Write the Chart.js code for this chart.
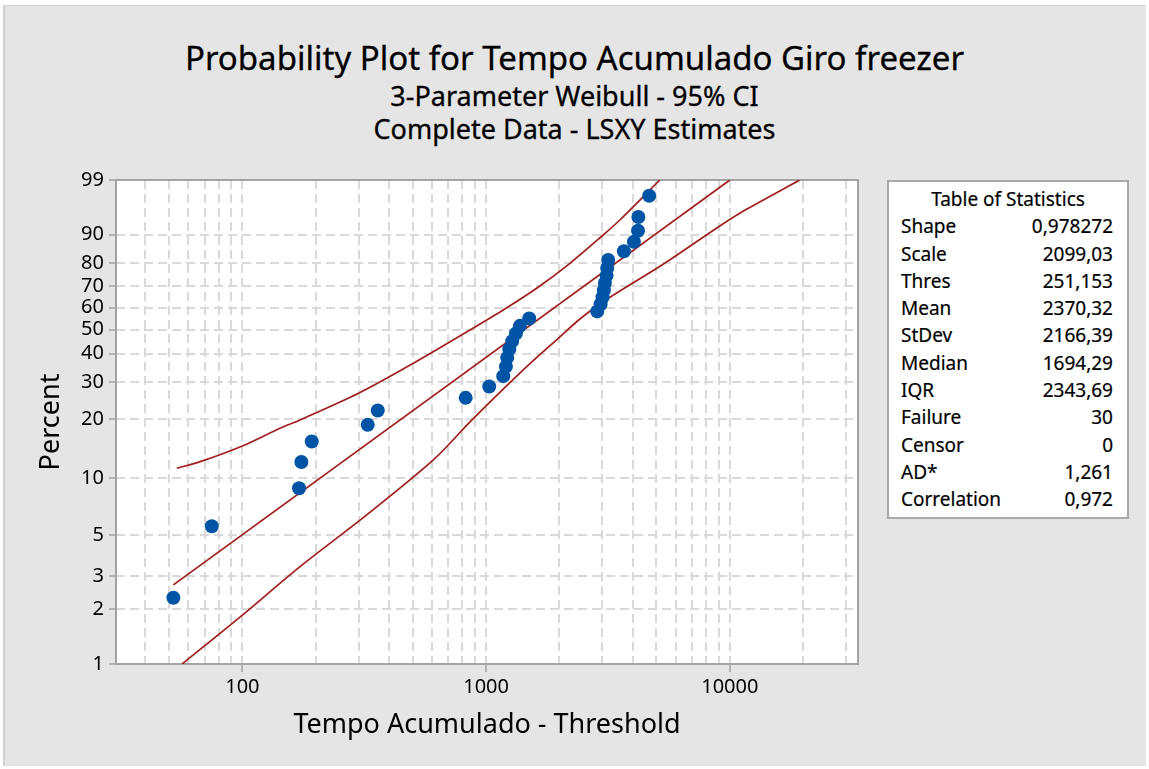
<!DOCTYPE html>
<html>
<head>
<meta charset="utf-8">
<script src="https://cdn.jsdelivr.net/npm/chart.js@4.4.0/dist/chart.umd.min.js"></script>
<style>
  html, body { margin:0; padding:0; background:#ffffff; width:1149px; height:769px; overflow:hidden; }
  #frame { position:absolute; left:3px; top:5px; width:1143px; height:761px; background:#e5e5e5;
           border-left:2px solid #d0d0d0; border-top:1px solid #d6d6d6; box-sizing:border-box; }
  .ttl { position:absolute; left:0; width:1149px; text-align:center; font-family:'Noto Sans', sans-serif; color:#000;
         white-space:nowrap; -webkit-text-stroke:0.3px #000; }
  #c { position:absolute; left:0; top:0; }
  #stats { position:absolute; left:887px; top:180px; width:242px; height:339px; background:#fff;
           border:2px solid #a8a8a8; box-sizing:border-box; font-family:'Noto Sans', sans-serif;
           font-size:19px; color:#000; padding-top:4px; -webkit-text-stroke:0.2px #000; }
  #stats .row { position:relative; height:27.3px; line-height:27.3px; white-space:nowrap; }
  #stats .hd { text-align:center; }
  #stats .lab { position:absolute; left:12px; }
  #stats .val { position:absolute; right:14px; }
</style>
</head>
<body>
<div id="frame"></div>
<div class="ttl" style="top:36px;font-size:33px;line-height:44px;">Probability Plot for Tempo Acumulado Giro freezer</div>
<div class="ttl" style="top:79px;font-size:27px;line-height:34px;">3-Parameter Weibull - 95% CI</div>
<div class="ttl" style="top:112px;font-size:27px;line-height:34px;">Complete Data - LSXY Estimates</div>
<canvas id="c" width="1149" height="769"></canvas>
<div id="stats"></div>
<script>
// ---------- data ----------
const failTimes = [52.1, 74.9, 170.8, 174.6, 192.6, 326.8, 359.3, 824.4, 1030, 1176,
                   1206, 1221, 1245, 1280, 1326, 1377, 1503, 2857, 2950, 3005,
                   3043, 3072, 3122, 3140, 3169, 3676, 4041, 4200, 4215, 4668];
const failPercent = [2.30, 5.59, 8.88, 12.17, 15.46, 18.75, 22.04, 25.33, 28.62, 31.91,
                     35.20, 38.49, 41.78, 45.07, 48.36, 51.64, 54.93, 58.22, 61.51, 64.80,
                     68.09, 71.38, 74.67, 77.96, 81.25, 84.54, 87.83, 91.12, 94.41, 97.70];
const fitX = [52.1, 10000];
const fitPercent = [2.70, 99];
const upperX = [53.8, 67.1, 100, 142.7, 172.4, 301.1, 502.5, 858.6, 1176, 1612, 2208, 3023, 3539, 5163];
const upperPercent = [11.29, 12.21, 14.69, 18.02, 19.81, 26.70, 36.39, 49.82, 58.86, 68.93, 79.89, 89.93, 93.77, 99];
const lowerX = [56.6, 100, 172.4, 323.7, 607.3, 875, 1467, 1977, 2426, 2931, 3539, 5327, 9099, 11707, 19370];
const lowerPercent = [1, 1.85, 3.39, 6.42, 12.46, 19.81, 35.16, 46.25, 54.73, 61.65, 67.68, 79.48, 92.36, 95.83, 99];

const xGridValues = [40, 50, 60, 70, 80, 90, 100, 200, 300, 400, 500, 600, 700, 800, 900,
                     1000, 2000, 3000, 4000, 5000, 6000, 7000, 8000, 9000, 10000, 20000, 30000];
const xTickLabels = [100, 1000, 10000];
const yTickPercents = [1, 2, 3, 5, 10, 20, 30, 40, 50, 60, 70, 80, 90, 99];

const statLabels = ['Shape', 'Scale', 'Thres', 'Mean', 'StDev', 'Median', 'IQR', 'Failure', 'Censor', 'AD*', 'Correlation'];
const statValues = ['0,978272', '2099,03', '251,153', '2370,32', '2166,39', '1694,29', '2343,69', '30', '0', '1,261', '0,972'];

// ---------- statistics table ----------
const st = document.getElementById('stats');
let html = '<div class="row hd">Table of Statistics</div>';
statLabels.forEach((l, i) => {
  html += '<div class="row"><span class="lab">' + l + '</span><span class="val">' + statValues[i] + '</span></div>';
});
st.innerHTML = html;

// ---------- chart ----------
const wb = p => Math.log(-Math.log(1 - p / 100));   // Weibull probability scale
const pts = (xs, ps) => xs.map((x, i) => ({ x: x, y: wb(ps[i]) }));
const RED = '#a11d1d';
const BLUE = '#0054a6';
const GRID = '#d9d9d9';

const areaPlugin = {
  id: 'areaPlugin',
  beforeDraw(chart) {
    const { ctx, chartArea: a } = chart;
    ctx.save();
    ctx.fillStyle = '#ffffff';
    ctx.fillRect(a.left, a.top, a.right - a.left, a.bottom - a.top);
    ctx.restore();
  },
  beforeDatasetsDraw(chart) {
    const { ctx, chartArea: a } = chart;
    ctx.save();
    ctx.strokeStyle = '#a3a3a3';
    ctx.lineWidth = 2;
    ctx.strokeRect(a.left, a.top, a.right - a.left, a.bottom - a.top);
    ctx.restore();
  }
};

Chart.defaults.font.family = "'Noto Sans', sans-serif";
Chart.defaults.color = '#000';

new Chart(document.getElementById('c'), {
  type: 'scatter',
  data: {
    datasets: [
      { label: 'Data', data: pts(failTimes, failPercent), backgroundColor: BLUE, borderColor: BLUE,
        pointRadius: 7, pointHoverRadius: 7, borderWidth: 0, showLine: false },
      { label: 'Fit', data: pts(fitX, fitPercent), showLine: true, borderColor: RED, borderWidth: 1.7,
        pointRadius: 0, fill: false },
      { label: 'Upper', data: pts(upperX, upperPercent), showLine: true, borderColor: RED, borderWidth: 1.7,
        pointRadius: 0, fill: false, tension: 0.3 },
      { label: 'Lower', data: pts(lowerX, lowerPercent), showLine: true, borderColor: RED, borderWidth: 1.7,
        pointRadius: 0, fill: false, tension: 0.3 }
    ]
  },
  options: {
    responsive: false,
    animation: false,
    devicePixelRatio: 1,
    events: [],
    layout: { padding: { top: 180, right: 291, left: 0, bottom: 0 } },
    plugins: { legend: { display: false }, tooltip: { enabled: false }, title: { display: false } },
    scales: {
      x: {
        type: 'logarithmic',
        position: 'bottom',
        min: 30.3,
        max: 33570,
        afterBuildTicks: s => { s.ticks = xGridValues.map(v => ({ value: v })); },
        afterFit: s => { s.height = 105; },
        ticks: {
          autoSkip: false, maxRotation: 0, minRotation: 0, padding: 3, color: '#000',
          font: { size: 20 },
          callback: v => xTickLabels.includes(v) ? String(v) : ''
        },
        grid: {
          color: GRID, lineWidth: 2, drawTicks: true, tickLength: 8, tickWidth: 1.5,
          tickColor: c => (c.tick && xTickLabels.includes(c.tick.value)) ? '#a0a0a0' : 'rgba(0,0,0,0)'
        },
        border: { display: false, dash: [9, 5] },
        title: { display: true, text: 'Tempo Acumulado - Threshold', color: '#000',
                 font: { size: 27 }, padding: { top: 0, bottom: 27 } }
      },
      y: {
        type: 'linear',
        position: 'left',
        min: wb(1),
        max: wb(99),
        afterBuildTicks: s => { s.ticks = yTickPercents.map(p => ({ value: wb(p) })); },
        afterFit: s => { s.width = 116; },
        ticks: {
          autoSkip: false, padding: 5, color: '#000', font: { size: 20 },
          callback: (v, i) => String(yTickPercents[i])
        },
        grid: { color: GRID, lineWidth: 2, drawTicks: true, tickLength: 7, tickWidth: 1.5, tickColor: '#a0a0a0' },
        border: { display: false, dash: [9, 5] },
        title: { display: true, text: 'Percent', color: '#000', font: { size: 27 }, padding: { top: 35, bottom: 0 } }
      }
    }
  },
  plugins: [areaPlugin]
});
</script>
</body>
</html>
